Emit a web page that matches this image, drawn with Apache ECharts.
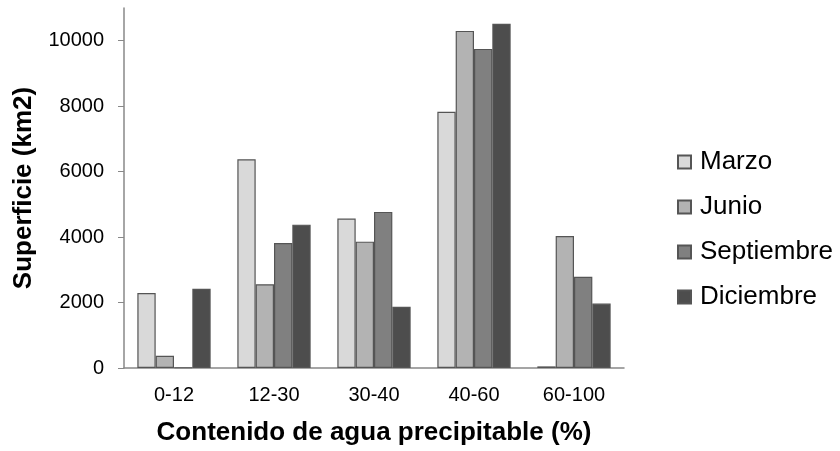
<!DOCTYPE html>
<html>
<head>
<meta charset="utf-8">
<script src="https://cdn.jsdelivr.net/npm/echarts@6/dist/echarts.min.js"></script>
<style>html,body{margin:0;padding:0;background:#fff}#c{width:840px;height:451px}</style>
</head>
<body>
<div id="c"></div>
<script>
var categories = ['0-12', '12-30', '30-40', '40-60', '60-100'];
var seriesNames = ['Marzo', 'Junio', 'Septiembre', 'Diciembre'];
var marzo = [2290, 6380, 4570, 7830, 50];
var junio = [375, 2560, 3860, 10300, 4030];
var septiembre = [15, 3820, 4770, 9750, 2790];
var diciembre = [2420, 4380, 1870, 10520, 1970];
var yTicks = [0, 2000, 4000, 6000, 8000, 10000];
var xTitle = 'Contenido de agua precipitable (%)';
var yTitle = 'Superficie (km2)';

var colors = ['#d9d9d9', '#b3b3b3', '#808080', '#4d4d4d'];
var values = [marzo, junio, septiembre, diciembre];
var FONT = '"Liberation Sans", Arial, sans-serif';

var chart = echarts.init(document.getElementById('c'), null, {renderer: 'canvas'});
chart.setOption({
  animation: false,
  backgroundColor: '#ffffff',
  grid: {left: 124, right: 216, top: 8, bottom: 82, containLabel: false},
  legend: {
    orient: 'vertical',
    left: 677,
    top: 149,
    padding: 0,
    itemWidth: 13,
    itemHeight: 13,
    itemGap: 19,
    icon: 'rect',
    textStyle: {fontFamily: FONT, fontSize: 26, color: '#000', padding: [0, 0, 0, 4]},
    data: seriesNames
  },
  xAxis: {
    type: 'category',
    data: categories,
    axisLine: {lineStyle: {color: '#888888', width: 1.5}},
    axisTick: {show: false},
    axisLabel: {fontFamily: FONT, fontSize: 20, color: '#000', margin: 17},
    name: xTitle,
    nameLocation: 'middle',
    nameGap: 52,
    nameTextStyle: {fontFamily: FONT, fontSize: 26, fontWeight: 'bold', color: '#000'}
  },
  yAxis: {
    type: 'value',
    min: 0,
    max: 11000,
    interval: 2000,
    splitLine: {show: false},
    axisLine: {show: true, lineStyle: {color: '#888888', width: 1.5}},
    axisTick: {show: true, length: 6, lineStyle: {color: '#888888'}, customValues: yTicks},
    axisLabel: {
      fontFamily: FONT, fontSize: 20, color: '#000', margin: 20, customValues: yTicks,
      formatter: function (v) { return String(v); }
    },
    name: yTitle,
    nameLocation: 'middle',
    nameGap: 87,
    nameTextStyle: {fontFamily: FONT, fontSize: 26, fontWeight: 'bold', color: '#000'}
  },
  series: seriesNames.map(function (n, i) {
    return {
      name: n,
      type: 'bar',
      data: values[i],
      barGap: '0%',
      barCategoryGap: '26.7%',
      itemStyle: {color: colors[i], borderColor: '#555555', borderWidth: 1.2}
    };
  })
});
</script>
</body>
</html>
